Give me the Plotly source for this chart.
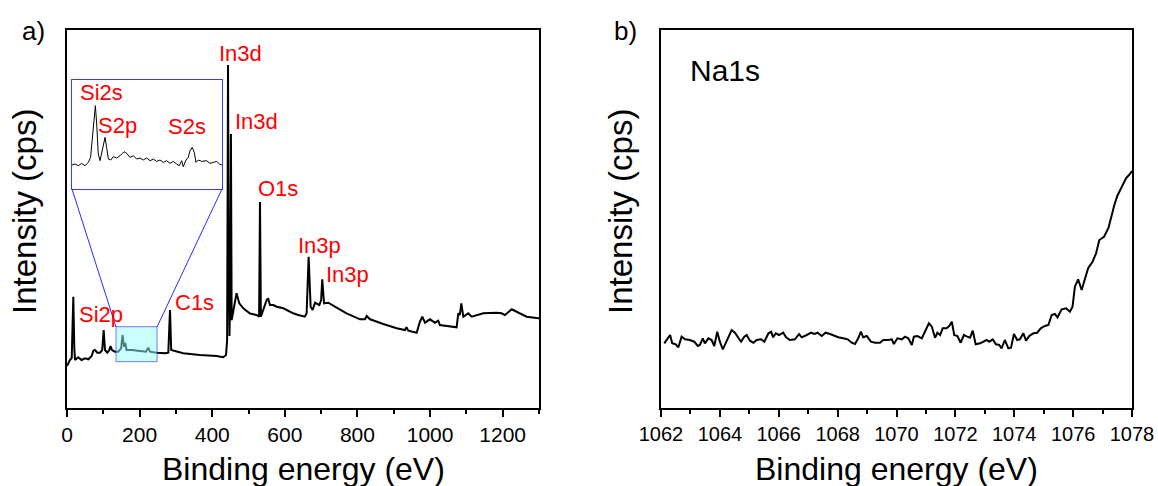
import plotly.graph_objects as go

# ---------------- data ----------------
survey_energy = [0, 8, 13, 15.6, 17.4, 20, 22, 31, 40, 50, 59, 68, 72.5, 77, 83.5, 91, 97, 101, 104.6,
                 111, 116.5, 120, 124, 132, 141, 149, 153, 157, 160.6, 164, 178, 201, 217.6, 224, 228.6,
                 247, 270, 279, 283.7, 287, 297, 320, 366, 412, 430, 438, 441, 442.5, 443.5, 445.5, 447.5,
                 450, 451.5, 453.5, 458, 462.7, 467, 474.5, 485.6, 504, 522, 529, 531.5, 534, 542.5, 550,
                 554, 559, 568, 577.5, 596, 605, 623, 637, 655, 660, 665.5, 671, 676.6, 683, 695, 700, 703,
                 708, 719.7, 738, 770, 807, 820.7, 825.4, 834.6, 871, 908, 931, 935, 940, 963, 972, 978.6,
                 986, 999.7, 1013.5, 1022.6, 1027, 1054.8, 1073, 1077.7, 1082, 1086, 1091.6, 1105, 1114.6,
                 1146.5, 1183, 1197, 1206, 1224.7, 1238, 1266, 1298, 1300]
survey_counts = [42, 48, 50, 78, 111.3, 61.3, 48, 50.7, 48, 49.7, 48.7, 52, 57.3, 58, 55.3, 55.3, 58, 78, 58,
                 55.3, 58, 62, 58, 56.3, 56.3, 59.7, 73, 61.3, 65, 58, 58, 57, 56.3, 60.3, 56.3,
                 55.3, 54.7, 55.3, 98, 58, 57, 54.7, 53, 52, 50.7, 53, 68, 200, 343, 150, 72,
                 120, 274, 88, 98, 108, 114.7, 104.7, 99.7, 94.5, 93, 91.3, 206, 91.3, 101.3, 108,
                 109.7, 103, 103, 101.3, 99.7, 98, 94.7, 93, 91.3, 94.7, 151.3, 101.3, 98, 105.3, 103, 108, 128.7,
                 104.7, 105.3, 101.3, 94.7, 88.7, 88.7, 92, 88.7, 84, 79.7, 78, 80.7, 77.3, 75.3, 86.3, 91.3,
                 85.3, 88.7, 85.3, 87.3, 83, 81.3, 80.7, 94.7, 93, 104.7, 91.3, 94.7, 91.3,
                 94.7, 95.3, 94.7, 93, 98.7, 96.3, 91.3, 89.7, 89.7]

inset_energy = [135, 137.3, 139.8, 142.3, 144.8, 147.3, 149, 150.3, 151.8, 152.6, 153.6, 154.8, 156.1, 157.8,
                159.9, 161.1, 162.4, 164.2, 166.1, 168.7, 171.2, 174.2, 176.2, 178.7, 181.2, 183.7, 186.2,
                188.7, 191.3, 193.8, 196.3, 198.8, 201.3, 203.8, 206.3, 208.8, 211.3, 213.8, 215.8, 217.6,
                218.8, 220.9, 222.6, 223.9, 225.6, 227.1, 228.4, 230.1, 232.7, 236.4, 239, 241.5, 244, 246, 248]
inset_counts = [35.7, 36.7, 35, 37.3, 35, 38.3, 43.3, 63.3, 90, 95, 76.7, 46.7, 40, 50,
                63.3, 53.3, 41.7, 40.7, 44, 42.7, 45, 49, 47.3, 43.3, 45, 41.7, 42.7,
                40.7, 42.7, 40, 41.7, 39.3, 40.7, 38.3, 40, 37.3, 39.3, 36.7, 35, 40,
                34, 40.7, 43.3, 50, 53.3, 48.3, 38.3, 40.7, 39.3, 40, 37.3, 38.3, 39.3, 36.7, 35.7]

na_energy = [1062.11, 1062.31, 1062.38, 1062.50, 1062.59, 1062.70, 1062.82, 1062.98, 1063.13, 1063.25,
             1063.32, 1063.42, 1063.49, 1063.61, 1063.72, 1063.81, 1063.91, 1064.00, 1064.10, 1064.20,
             1064.29, 1064.40, 1064.51, 1064.63, 1064.72, 1064.83, 1064.91, 1065.02, 1065.14, 1065.25,
             1065.40, 1065.51, 1065.65, 1065.74, 1065.81, 1065.90, 1066.01, 1066.15, 1066.25, 1066.38,
             1066.55, 1066.69, 1066.78, 1066.95, 1067.10, 1067.21, 1067.32, 1067.46, 1067.59, 1067.74,
             1067.89, 1068.02, 1068.19, 1068.34, 1068.48, 1068.59, 1068.70, 1068.79, 1068.87, 1068.99,
             1069.13, 1069.27, 1069.44, 1069.55, 1069.72, 1069.84, 1069.91, 1070.03, 1070.18, 1070.29,
             1070.40, 1070.52, 1070.59, 1070.71, 1070.86, 1070.97, 1071.10, 1071.20, 1071.31, 1071.39,
             1071.48, 1071.57, 1071.70, 1071.79, 1071.88, 1071.96, 1072.07, 1072.18, 1072.29, 1072.40,
             1072.50, 1072.59, 1072.69, 1072.84, 1072.95, 1073.06, 1073.15, 1073.27, 1073.38, 1073.49,
             1073.57, 1073.68, 1073.80, 1073.89, 1073.99, 1074.10, 1074.19, 1074.31, 1074.40, 1074.51,
             1074.65, 1074.78, 1074.90, 1075.04, 1075.16, 1075.27, 1075.38, 1075.47, 1075.61, 1075.76,
             1075.89, 1075.98, 1076.06, 1076.17, 1076.29, 1076.40, 1076.51, 1076.66, 1076.78, 1076.89,
             1077.05, 1077.2, 1077.3, 1077.4, 1077.5, 1077.6, 1077.7, 1077.8, 1077.9, 1078.0]
na_counts = [64.7, 73, 64.7, 63.7, 60.7, 71.3, 68.7, 68, 66.3, 62,
             63, 69.7, 64.7, 69.7, 68, 62, 76.3, 66.3, 58.7, 65.3,
             69.7, 78, 75.3, 69.7, 66.3, 71.3, 73, 67.3, 65.3, 68,
             68.7, 66.3, 74.7, 76.3, 70.7, 74.7, 73, 75.3, 70.7, 68,
             68.7, 74, 70.7, 73, 75.3, 74, 75.3, 72, 75.3, 74,
             72, 70.7, 69.7, 68.7, 65.3, 64, 69.7, 76.3, 70.7, 72,
             66.3, 65.3, 65.3, 68, 68, 68.7, 64, 69.7, 68.7, 71.3,
             69.7, 63, 71.3, 72, 69.7, 76.3, 84.7, 81.3, 70.3, 75.3,
             73, 79.7, 79.7, 82, 86.3, 73, 72, 65.3, 73, 71.3,
             70.3, 77.3, 63.7, 64.7, 66.3, 68, 66.3, 68.7, 63.7, 63,
             59.7, 68, 59.7, 60.3, 74, 68, 68.7, 74.7, 67.3, 72,
             74.7, 75.3, 79.7, 82, 83, 93, 94, 90.7, 98.7, 99.7,
             96.3, 101.3, 121.3, 128.7, 118, 129.7, 139.7, 146.3, 154.7, 168,
             171.3, 180, 192, 203, 212, 218, 224, 230, 233, 237]

peak_labels = ["In3d", "In3d", "O1s", "In3p", "In3p", "C1s", "Si2p"]
peak_label_x = [477, 521, 580, 696, 772, 352, 95]
peak_label_y = [355, 287, 220, 163, 134, 106, 94]

inset_labels = ["Si2s", "S2p", "S2s"]
inset_label_x = [157, 169, 222]
inset_label_y = [108, 75, 74]

zoom_box = [135, 248, 46.3, 81.3]   # x0, x1, y0, y1 of the shaded region

W, H = 1158, 486
FONT = "Arial, Liberation Sans, sans-serif"

def px(x):
    return x / W

def py(y):
    return 1 - y / H

fig = go.Figure()

fig.add_trace(go.Scatter(x=survey_energy, y=survey_counts, mode="lines",
                         line=dict(color="black", width=2), xaxis="x", yaxis="y", showlegend=False))
fig.add_trace(go.Scatter(x=inset_energy, y=inset_counts, mode="lines",
                         line=dict(color="black", width=1), xaxis="x3", yaxis="y3", showlegend=False))
fig.add_trace(go.Scatter(x=na_energy, y=na_counts, mode="lines",
                         line=dict(color="black", width=2), xaxis="x2", yaxis="y2", showlegend=False))

axis_common = dict(showline=True, linecolor="black", linewidth=2, mirror=True,
                   showgrid=False, zeroline=False, automargin=False)

fig.update_layout(
    width=W, height=H,
    margin=dict(l=0, r=0, t=0, b=0, autoexpand=False),
    paper_bgcolor="white", plot_bgcolor="white",
    font=dict(family=FONT, color="black"),
    xaxis=dict(domain=[px(67), px(539)], range=[0, 1300], anchor="y",
               tickmode="array", tickvals=[0, 200, 400, 600, 800, 1000, 1200],
               ticks="outside", ticklen=7, tickwidth=1.5, tickcolor="black",
               minor=dict(tickmode="array", tickvals=[100, 300, 500, 700, 900, 1100, 1300],
                          ticks="outside", ticklen=4, tickwidth=1.5, tickcolor="black"),
               tickfont=dict(size=21, family=FONT), **axis_common),
    yaxis=dict(domain=[py(408), py(30)], range=[0, 378], anchor="x",
               showticklabels=False, ticks="", **axis_common),
    xaxis2=dict(domain=[px(661), px(1132)], range=[1062, 1078], anchor="y2",
                tickmode="array", tickvals=[1062, 1064, 1066, 1068, 1070, 1072, 1074, 1076, 1078],
                ticks="outside", ticklen=7, tickwidth=1.5, tickcolor="black",
                minor=dict(tickmode="array", tickvals=[1063, 1065, 1067, 1069, 1071, 1073, 1075, 1077],
                           ticks="outside", ticklen=4, tickwidth=1.5, tickcolor="black"),
                tickfont=dict(size=20, family=FONT), **axis_common),
    yaxis2=dict(domain=[py(408), py(30)], range=[0, 378], anchor="x2",
                showticklabels=False, ticks="", **axis_common),
    xaxis3=dict(domain=[px(72), px(222)], range=[135, 248], anchor="y3",
                showline=True, linecolor="#3a3aff", linewidth=1, mirror=True, automargin=False,
                showticklabels=False, ticks="", showgrid=False, zeroline=False),
    yaxis3=dict(domain=[py(189), py(80)], range=[11.7, 120.7], anchor="x3",
                showline=True, linecolor="#3a3aff", linewidth=1, mirror=True, automargin=False,
                showticklabels=False, ticks="", showgrid=False, zeroline=False),
)

# shaded zoom region
fig.add_shape(type="rect", xref="x", yref="y", x0=zoom_box[0], x1=zoom_box[1], y0=zoom_box[2], y1=zoom_box[3],
              fillcolor="rgba(150,255,255,0.5)", line=dict(color="rgba(60,60,255,0.7)", width=1), layer="above")
# connector lines
fig.add_shape(type="line", xref="paper", yref="paper", x0=px(72), y0=py(189), x1=px(116), y1=py(327),
              line=dict(color="#2a2aff", width=1))
fig.add_shape(type="line", xref="paper", yref="paper", x0=px(222), y0=py(189), x1=px(157), y1=py(327),
              line=dict(color="#2a2aff", width=1))

red = "#ff0000"
for t, x, y in zip(peak_labels, peak_label_x, peak_label_y):
    fig.add_annotation(text=t, x=x, y=y, xref="x", yref="y", showarrow=False,
                       font=dict(size=22, color=red, family=FONT), xanchor="center", yanchor="middle")
for t, x, y in zip(inset_labels, inset_label_x, inset_label_y):
    fig.add_annotation(text=t, x=x, y=y, xref="x3", yref="y3", showarrow=False,
                       font=dict(size=22, color=red, family=FONT), xanchor="center", yanchor="middle")

# panel letters and Na1s label
fig.add_annotation(text="a)", x=px(33), y=py(31), xref="paper", yref="paper", showarrow=False,
                   font=dict(size=26, family=FONT), xanchor="center", yanchor="middle")
fig.add_annotation(text="b)", x=px(625), y=py(31), xref="paper", yref="paper", showarrow=False,
                   font=dict(size=26, family=FONT), xanchor="center", yanchor="middle")
fig.add_annotation(text="Na1s", x=px(725), y=py(70), xref="paper", yref="paper", showarrow=False,
                   font=dict(size=30, family=FONT), xanchor="center", yanchor="middle")

# axis titles
for cx in (303, 896.5):
    fig.add_annotation(text="Binding energy (eV)", x=px(cx), y=py(469), xref="paper", yref="paper",
                       showarrow=False, font=dict(size=32, family=FONT), xanchor="center", yanchor="middle")
for cx in (24, 620):
    fig.add_annotation(text="Intensity (cps)", x=px(cx), y=py(212), xref="paper", yref="paper",
                       showarrow=False, textangle=-90, font=dict(size=33, family=FONT),
                       xanchor="center", yanchor="middle")

fig.write_html("out.html")
